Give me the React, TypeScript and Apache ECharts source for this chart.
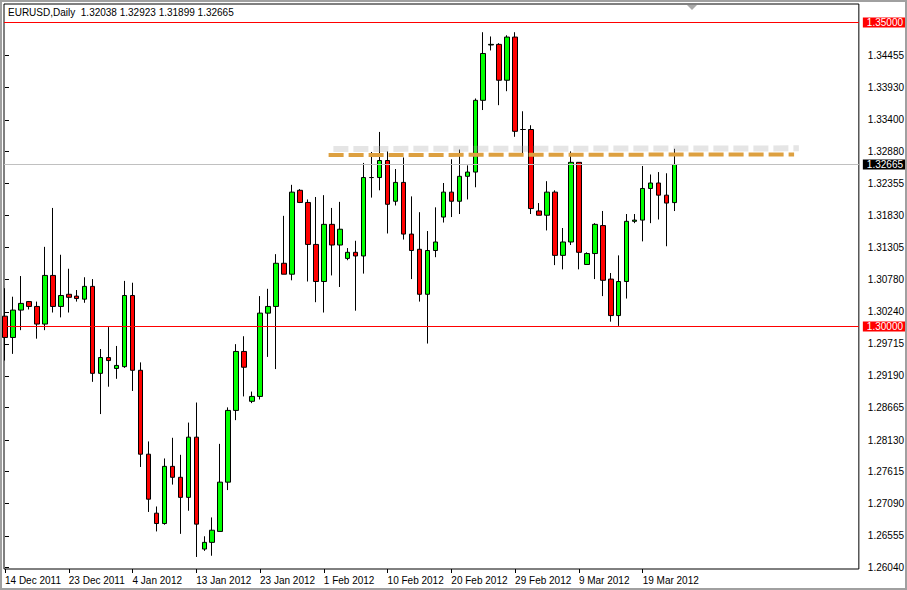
import React, { useEffect, useRef } from 'react';
import * as echarts from 'echarts';

// Daily EURUSD candles, 14 Dec 2011 .. 22 Mar 2012
const OPEN = [
  1.3017, 1.2982, 1.3027, 1.3041, 1.3033, 1.3004, 1.3084, 1.3033, 1.3053, 1.3050,
  1.3045, 1.3066, 1.2923, 1.2949, 1.2931, 1.2934, 1.3051, 1.2928, 1.2790, 1.2693,
  1.2676, 1.2770, 1.2752, 1.2719, 1.2818, 1.2634, 1.2645, 1.2663, 1.2744, 1.2862,
  1.2959, 1.2877, 1.2885, 1.3022, 1.3033, 1.3104, 1.3086, 1.3224, 1.3204, 1.3135,
  1.3074, 1.3168, 1.3134, 1.3112, 1.3122, 1.3116, 1.3245, 1.3245, 1.3273, 1.3206,
  1.3237, 1.3152, 1.3127, 1.3053, 1.3125, 1.3180, 1.3221, 1.3206, 1.3247, 1.3254,
  1.3372, 1.3463, 1.3464, 1.3405, 1.3476, 1.3324, 1.3324, 1.3190, 1.3183, 1.3221,
  1.3117, 1.3139, 1.3270, 1.3102, 1.3120, 1.3166, 1.3078, 1.3018, 1.3074, 1.3173,
  1.3175, 1.3227, 1.3236, 1.3216, 1.32038,
];
const HIGH = [
  1.3063, 1.3049, 1.3083, 1.3042, 1.3041, 1.3131, 1.3195, 1.3118, 1.3095, 1.3060,
  1.3081, 1.3078, 1.2963, 1.2999, 1.2968, 1.3075, 1.3072, 1.2941, 1.2811, 1.2704,
  1.2783, 1.2817, 1.2789, 1.2842, 1.2875, 1.2655, 1.2686, 1.2807, 1.2867, 1.2971,
  1.2984, 1.2893, 1.3050, 1.3062, 1.3119, 1.3182, 1.3233, 1.3226, 1.3209, 1.3213,
  1.3216, 1.3195, 1.3205, 1.3129, 1.3141, 1.3269, 1.3287, 1.3320, 1.3288, 1.3259,
  1.3278, 1.3214, 1.3188, 1.3157, 1.3196, 1.3236, 1.3275, 1.3291, 1.3265, 1.3375,
  1.3484, 1.3477, 1.3466, 1.3479, 1.3484, 1.3354, 1.3331, 1.3203, 1.3239, 1.3224,
  1.3162, 1.3288, 1.3270, 1.3122, 1.3170, 1.3190, 1.3088, 1.3117, 1.3185, 1.3185,
  1.3264, 1.3250, 1.3254, 1.3252, 1.32923,
];
const LOW = [
  1.2944, 1.2955, 1.2994, 1.3028, 1.2980, 1.2994, 1.3023, 1.3015, 1.3023, 1.3041,
  1.3039, 1.2909, 1.2856, 1.2901, 1.2914, 1.2932, 1.2894, 1.2769, 1.2695, 1.2663,
  1.2674, 1.2740, 1.2659, 1.2697, 1.2621, 1.2631, 1.2623, 1.2663, 1.2731, 1.2846,
  1.2885, 1.2874, 1.2880, 1.2950, 1.2930, 1.3086, 1.3076, 1.3203, 1.3074, 1.3040,
  1.3023, 1.3084, 1.3065, 1.3109, 1.3026, 1.3087, 1.3212, 1.3224, 1.3153, 1.3199,
  1.3143, 1.3078, 1.3041, 1.2972, 1.3114, 1.3171, 1.3180, 1.3185, 1.3209, 1.3229,
  1.3356, 1.3454, 1.3364, 1.3387, 1.3312, 1.3285, 1.3185, 1.3183, 1.3158, 1.3101,
  1.3094, 1.3134, 1.3094, 1.3102, 1.3078, 1.3050, 1.3008, 1.3001, 1.3046, 1.3170,
  1.3140, 1.3170, 1.3176, 1.3132, 1.31899,
];
const CLOSE = [
  1.2982, 1.3027, 1.3038, 1.3033, 1.3004, 1.3084, 1.3033, 1.3051, 1.3048, 1.3046,
  1.3066, 1.2923, 1.2949, 1.2944, 1.2936, 1.3051, 1.2928, 1.2790, 1.2716, 1.2676,
  1.2770, 1.2752, 1.2719, 1.2818, 1.2675, 1.2645, 1.2665, 1.2744, 1.2862, 1.2959,
  1.2933, 1.2885, 1.3022, 1.3033, 1.3104, 1.3086, 1.3221, 1.3204, 1.3135, 1.3074,
  1.3168, 1.3134, 1.3160, 1.3122, 1.3116, 1.3245, 1.3245, 1.3273, 1.3201, 1.3237,
  1.3152, 1.3125, 1.3053, 1.3125, 1.3139, 1.3221, 1.3206, 1.3247, 1.3254, 1.3372,
  1.3449, 1.3464, 1.3405, 1.3476, 1.3321, 1.3324, 1.3194, 1.3183, 1.3221, 1.3117,
  1.3139, 1.3270, 1.3122, 1.3120, 1.3168, 1.3076, 1.3018, 1.3074, 1.3173, 1.3175,
  1.3227, 1.3236, 1.3216, 1.3203, 1.32665,
];

const DATE_LABELS = [
  '14 Dec 2011', '23 Dec 2011', '4 Jan 2012', '13 Jan 2012', '23 Jan 2012', '1 Feb 2012',
  '10 Feb 2012', '20 Feb 2012', '29 Feb 2012', '9 Mar 2012', '19 Mar 2012',
];
const DATE_LABEL_STEP = 8; // one date label every 8 bars

const PRICE_TICKS = [
  1.34455, 1.3393, 1.334, 1.3288, 1.32355, 1.3183, 1.31305, 1.3078, 1.3024,
  1.29715, 1.2919, 1.28665, 1.2813, 1.27615, 1.2709, 1.26555, 1.2604,
];
const LEVELS = [1.35, 1.3];
const CURRENT_PRICE = 1.32665;
const RESISTANCE = [
  [40.6, 1.3282],
  [99.0, 1.3283],
];
// the trend line's drop shadow, drawn up and to the right of it
const SHADOW_SHIFT = [0.6, 0.001];
const TITLE = 'EURUSD,Daily  1.32038 1.32923 1.31899 1.32665';

const FONT = '"Liberation Sans", Arial, sans-serif';

export default function App() {
  const ref = useRef<HTMLDivElement>(null);

  useEffect(() => {
    if (!ref.current) return;
    const chart = echarts.init(ref.current, null, { renderer: 'svg' });
    const data = OPEN.map((o, i) => [i, o, CLOSE[i], LOW[i], HIGH[i]]);
    const dateTicks = DATE_LABELS.map((_, i) => i * DATE_LABEL_STEP);
    const shadowPts = RESISTANCE.map((p) => [p[0] + SHADOW_SHIFT[0], p[1] + SHADOW_SHIFT[1]]);

    const levelLabel = (bg: string) => ({
      show: true,
      position: 'end',
      distance: 4,
      formatter: (p: any) => Number(p.value).toFixed(5),
      color: '#fff',
      backgroundColor: bg,
      fontSize: 10,
      fontFamily: FONT,
      lineHeight: 10,
      padding: [0, 2, 0, 4],
    });

    chart.setOption({
      animation: false,
      backgroundColor: '#fff',
      textStyle: { fontFamily: FONT },
      title: {
        text: TITLE,
        left: 8,
        top: 7,
        padding: 0,
        textStyle: { fontSize: 10, fontWeight: 'normal', color: '#000', fontFamily: FONT },
      },
      grid: {
        left: 4,
        top: 4,
        right: 45,
        bottom: 21,
        show: true,
        borderColor: '#000',
        borderWidth: 1,
        backgroundColor: '#fff',
      },
      xAxis: {
        type: 'value',
        min: -0.125,
        max: 107.125,
        splitLine: { show: false },
        axisLine: { show: false },
        axisTick: {
          show: true,
          customValues: dateTicks,
          length: 4,
          lineStyle: { color: '#000' },
        },
        axisLabel: {
          customValues: dateTicks,
          formatter: (v: number) => DATE_LABELS[Math.round(v / DATE_LABEL_STEP)] ?? '',
          align: 'left',
          margin: 6,
          fontSize: 10,
          color: '#000',
          fontFamily: FONT,
        },
      },
      yAxis: {
        type: 'value',
        position: 'right',
        min: 1.26012,
        max: 1.35304,
        splitLine: { show: false },
        axisLine: { show: false },
        axisTick: {
          show: true,
          customValues: PRICE_TICKS,
          length: 4,
          lineStyle: { color: '#000' },
        },
        axisLabel: {
          customValues: PRICE_TICKS,
          formatter: (v: number) => v.toFixed(5),
          margin: 9,
          fontSize: 10,
          color: '#000',
          fontFamily: FONT,
        },
      },
      series: [
        {
          type: 'candlestick',
          data,
          encode: { x: 0, y: [1, 2, 3, 4] },
          barWidth: 5,
          itemStyle: {
            color: '#00ff00',
            color0: '#ff0000',
            borderColor: '#000',
            borderColor0: '#000',
            borderColorDoji: '#000',
            borderWidth: 1,
          },
          markLine: {
            silent: true,
            precision: 5,
            symbol: ['none', 'none'],
            data: [
              {
                yAxis: CURRENT_PRICE,
                lineStyle: { color: '#c0c0c0', width: 1, type: 'solid' },
                label: levelLabel('#000'),
              },
              ...LEVELS.map((v) => ({
                yAxis: v,
                lineStyle: { color: '#ff0000', width: 1, type: 'solid' },
                label: levelLabel('#ff0000'),
              })),
              [
                {
                  coord: shadowPts[0],
                  lineStyle: {
                    color: 'rgba(170,170,170,0.3)',
                    width: 6,
                    type: [15, 5],
                  },
                  label: { show: false },
                },
                { coord: shadowPts[1] },
              ],
              [
                {
                  coord: RESISTANCE[0],
                  lineStyle: {
                    color: '#dda040',
                    width: 4,
                    type: [15, 5],
                  },
                  label: { show: false },
                },
                { coord: RESISTANCE[1] },
              ],
            ],
          },
        },
      ],
      graphic: [
        {
          type: 'rect',
          shape: { x: 1, y: 1, width: 905, height: 588 },
          style: { fill: 'none', stroke: '#a0a0a0', lineWidth: 2 },
          silent: true,
        },
        {
          type: 'polygon',
          shape: { points: [[687, 5], [697, 5], [692, 10]] },
          style: { fill: '#a8a8a8' },
          silent: true,
        },
      ],
    });

    return () => chart.dispose();
  }, []);

  return (
    <div
      ref={ref}
      style={{ position: 'fixed', left: 0, top: 0, width: 907, height: 590 }}
    />
  );
}
